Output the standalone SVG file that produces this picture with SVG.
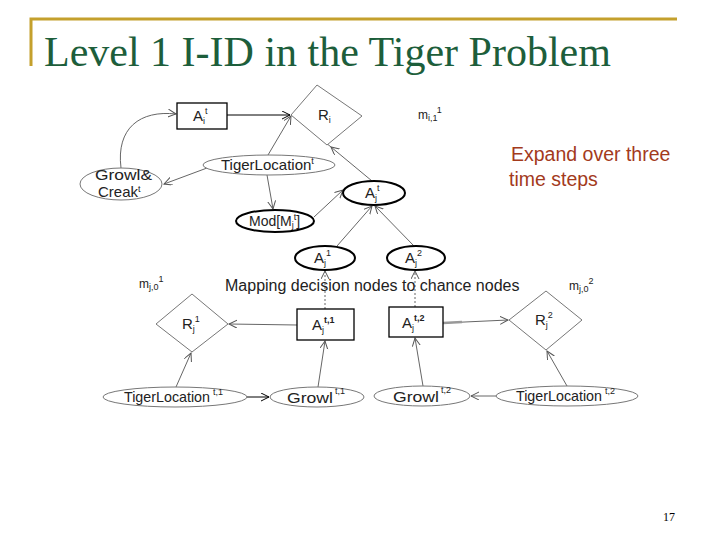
<svg xmlns="http://www.w3.org/2000/svg" width="720" height="540" viewBox="0 0 720 540">
<style>
.t{font-family:"Liberation Sans",Arial,sans-serif;font-size:15px;fill:#222}
.s{font-size:9px}
.ln{stroke:#666;stroke-width:1;fill:none}
.thin{fill:#fff;stroke:#777;stroke-width:1}
.thick{fill:#fff;stroke:#000;stroke-width:2}
.box{fill:#fff;stroke:#000;stroke-width:1.3}
</style>
<defs>
<marker id="a" markerWidth="10" markerHeight="10" refX="8" refY="4" orient="auto" markerUnits="userSpaceOnUse">
<path d="M0,0 L8,4 L0,8" fill="none" stroke="#555" stroke-width="1"/>
</marker>
<marker id="ab" markerWidth="10" markerHeight="10" refX="8" refY="4" orient="auto" markerUnits="userSpaceOnUse">
<path d="M0,0 L8,4 L0,8" fill="none" stroke="#000" stroke-width="1"/>
</marker>
</defs>
<rect width="720" height="540" fill="#fff"/>
<g id="title">
<path d="M31,66 V19 H677" fill="none" stroke="#c4a02c" stroke-width="3"/>
<text x="44" y="66" font-family="'Liberation Serif','Times New Roman',serif" font-size="42" fill="#1d5e3b">Level 1 I-ID in the Tiger Problem</text>
</g>
<g id="connectors">
<line x1="227" y1="115" x2="290" y2="115" stroke="#000" stroke-width="1" marker-end="url(#ab)"/>
<path class="ln" d="M121,168 C116,128 140,110 176,114" marker-end="url(#a)"/>
<line class="ln" x1="207" y1="168" x2="164" y2="184" marker-end="url(#a)"/>
<line class="ln" x1="268" y1="155" x2="291" y2="116" marker-end="url(#a)"/>
<line class="ln" x1="267" y1="175" x2="273" y2="209" marker-end="url(#a)"/>
<line class="ln" x1="314" y1="217" x2="343" y2="190" marker-end="url(#a)"/>
<line class="ln" x1="372" y1="181" x2="331" y2="147" marker-end="url(#a)"/>
<line class="ln" x1="331" y1="147" x2="293" y2="116"/>
<line class="ln" x1="337" y1="246" x2="372" y2="206" marker-end="url(#a)"/>
<line class="ln" x1="414" y1="246" x2="375" y2="206" marker-end="url(#a)"/>
<line class="ln" x1="325" y1="309" x2="325" y2="271" stroke-dasharray="2,2" marker-end="url(#a)"/>
<line class="ln" x1="415" y1="307" x2="415" y2="271" stroke-dasharray="2,2" marker-end="url(#a)"/>
<line class="ln" x1="297" y1="325" x2="229" y2="324" marker-end="url(#a)"/>
<line class="ln" x1="176" y1="387" x2="191" y2="353" marker-end="url(#a)"/>
<line x1="247" y1="397" x2="269" y2="397" stroke="#000" stroke-width="1" marker-end="url(#ab)"/>
<line class="ln" x1="318" y1="387" x2="325" y2="341" marker-end="url(#a)"/>
<line class="ln" x1="423" y1="386" x2="415" y2="338" marker-end="url(#a)"/>
<line class="ln" x1="497" y1="396" x2="471" y2="396" marker-end="url(#a)"/>
<line class="ln" x1="443" y1="323" x2="508" y2="320" marker-end="url(#a)"/>
<line x1="443" y1="323" x2="462" y2="322" stroke="#999" stroke-width="2.5"/>
<line class="ln" x1="567" y1="386" x2="547" y2="351" marker-end="url(#a)"/>
</g>
<g id="Ait">
<rect class="box" x="177" y="103" width="50" height="26"/>
<text class="t" x="193" y="121">A<tspan class="s" dy="3">i</tspan><tspan class="s" dy="-10">t</tspan></text>
</g>
<g id="Ri">
<polygon class="thin" points="291,115 317,85 362,116 327,145"/>
<text class="t" x="318" y="120">R<tspan class="s" dy="3">i</tspan></text>
</g>
<g id="mi1">
<text class="t" x="418" y="119" style="font-size:12px">m<tspan class="s" dy="2">i,1</tspan><tspan class="s" dy="-8">1</tspan></text>
</g>
<g id="TigerLocationT">
<ellipse class="thin" cx="269" cy="165" rx="66" ry="10"/>
<text class="t" x="221" y="170">TigerLocation<tspan class="s" dy="-6">t</tspan></text>
</g>
<g id="GrowlCreak">
<ellipse class="thin" cx="121" cy="184" rx="41" ry="16"/>
<text class="t" x="95" y="180" style="font-size:14px" textLength="57" lengthAdjust="spacingAndGlyphs">Growl&amp;</text>
<text class="t" x="98" y="197">Creak<tspan class="s" dy="-5">t</tspan></text>
</g>
<g id="Mod">
<ellipse class="thick" cx="275" cy="221" rx="39" ry="11"/>
<text class="t" x="249" y="226" style="font-size:14px">Mod[M<tspan class="s" dy="2">j</tspan><tspan class="s" dy="-8">t</tspan><tspan dy="6">]</tspan></text>
</g>
<g id="Ajt">
<ellipse class="thick" cx="374" cy="193" rx="31" ry="12"/>
<text class="t" x="365" y="198">A<tspan class="s" dy="3">j</tspan><tspan class="s" dy="-10">t</tspan></text>
</g>
<g id="Aj1">
<ellipse class="thick" cx="325" cy="258" rx="30" ry="12"/>
<text class="t" x="314" y="263">A<tspan class="s" dy="3">j</tspan><tspan class="s" dy="-10">1</tspan></text>
</g>
<g id="Aj2">
<ellipse class="thick" cx="416" cy="258" rx="29" ry="12"/>
<text class="t" x="405" y="263">A<tspan class="s" dy="3">j</tspan><tspan class="s" dy="-10">2</tspan></text>
</g>
<g id="labels">
<text x="511" y="161" font-family="'Liberation Sans',Arial,sans-serif" font-size="19.5" fill="#a33a1c">Expand over three</text>
<text x="509" y="186" font-family="'Liberation Sans',Arial,sans-serif" font-size="19.5" fill="#a33a1c">time steps</text>
<text x="225" y="291" font-family="'Liberation Sans',Arial,sans-serif" font-size="16" fill="#222">Mapping decision nodes to chance nodes</text>
<text class="t" x="139" y="288" style="font-size:12px">m<tspan class="s" dy="2">j,0</tspan><tspan class="s" dy="-8">1</tspan></text>
<text class="t" x="569" y="290" style="font-size:12px">m<tspan class="s" dy="2">j,0</tspan><tspan class="s" dy="-8">2</tspan></text>
<text x="663" y="521" font-family="'Liberation Serif','Times New Roman',serif" font-size="12" fill="#000">17</text>
</g>
<g id="Rj1">
<polygon class="thin" points="156,324 192,294 228,324 192,352"/>
<text class="t" x="182" y="329">R<tspan class="s" dy="3">j</tspan><tspan class="s" dy="-10">1</tspan></text>
</g>
<g id="Ajt1">
<rect class="box" x="297" y="309" width="57" height="31"/>
<text class="t" x="312" y="330">A<tspan class="s" dy="3">j</tspan><tspan class="s" dy="-10" font-weight="bold">t,1</tspan></text>
</g>
<g id="Ajt2">
<rect class="box" x="389" y="307" width="54" height="30" stroke-width="2"/>
<text class="t" x="402" y="328">A<tspan class="s" dy="3">j</tspan><tspan class="s" dy="-10" font-weight="bold">t,2</tspan></text>
</g>
<g id="Rj2">
<polygon class="thin" points="509,320 546,291 582,320 546,350"/>
<text class="t" x="535" y="325">R<tspan class="s" dy="3">j</tspan><tspan class="s" dy="-10">2</tspan></text>
</g>
<g id="TL1">
<ellipse class="thin" cx="175" cy="397" rx="72" ry="10"/>
<text class="t" x="124" y="402" textLength="86" lengthAdjust="spacingAndGlyphs">TigerLocation</text>
<text class="t s" x="213" y="395">t,1</text>
</g>
<g id="G1">
<ellipse class="thin" cx="317" cy="397" rx="47" ry="10"/>
<text class="t" x="287" y="403" textLength="46" lengthAdjust="spacingAndGlyphs">Growl</text>
<text class="t s" x="335" y="394">t,1</text>
</g>
<g id="G2">
<ellipse class="thin" cx="422" cy="396" rx="48" ry="10"/>
<text class="t" x="393" y="402" textLength="46" lengthAdjust="spacingAndGlyphs">Growl</text>
<text class="t s" x="441" y="393">t,2</text>
</g>
<g id="TL2">
<ellipse class="thin" cx="567" cy="396" rx="71" ry="10"/>
<text class="t" x="516" y="401" textLength="86" lengthAdjust="spacingAndGlyphs">TigerLocation</text>
<text class="t s" x="605" y="394">t,2</text>
</g>
</svg>
